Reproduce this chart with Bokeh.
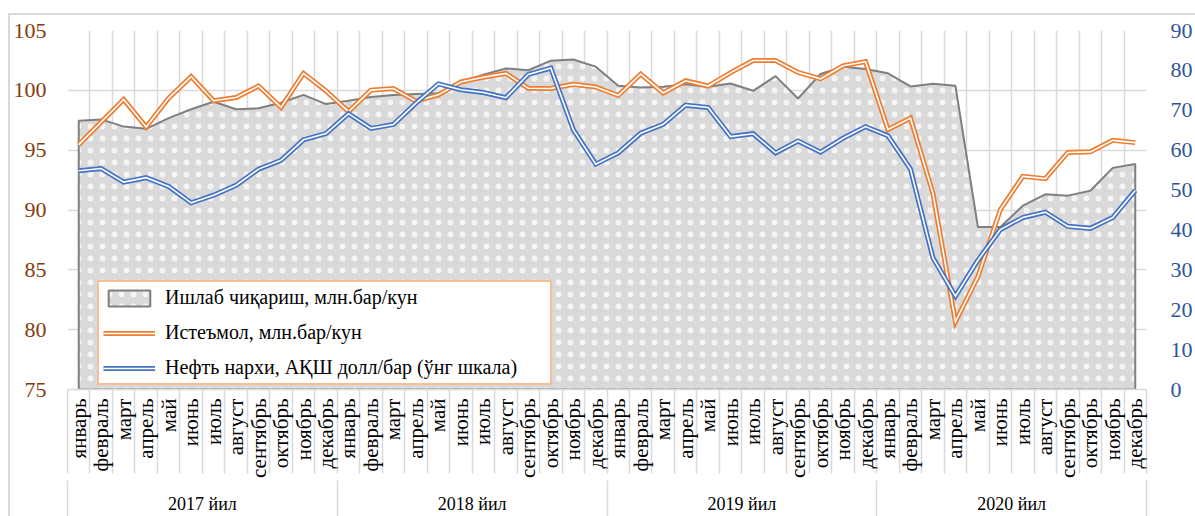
import numpy as np
from math import pi
from bokeh.plotting import figure
from bokeh.models import Range1d, LinearAxis, FixedTicker, Legend, LegendItem, Grid
from bokeh.embed import file_html
from bokeh.resources import INLINE

months = ["январь", "февраль", "март", "апрель", "май", "июнь", "июль",
          "август", "сентябрь", "октябрь", "ноябрь", "декабрь"]
years = ["2017 йил", "2018 йил", "2019 йил", "2020 йил"]

production = [97.46, 97.57, 96.97, 96.78, 97.68, 98.42, 99.04, 98.42, 98.50, 98.96, 99.62, 98.85,
              99.13, 99.45, 99.62, 99.70, 99.75, 100.70, 101.31, 101.83, 101.68, 102.48, 102.58, 101.98,
              100.38, 100.23, 100.30, 100.50, 100.30, 100.57, 99.96, 101.19, 99.32, 101.37, 101.97, 101.78,
              101.42, 100.33, 100.55, 100.38, 88.58, 88.58, 90.36, 91.31, 91.20, 91.61, 93.52, 93.85]
consumption = [95.46, 97.35, 99.23, 96.94, 99.35, 101.15, 99.13, 99.40, 100.36, 98.58, 101.42, 99.95,
               98.22, 100.02, 100.15, 99.10, 99.62, 100.70, 101.10, 101.42, 100.17, 100.15, 100.50, 100.28,
               99.57, 101.35, 99.78, 100.80, 100.36, 101.48, 102.49, 102.49, 101.50, 100.96, 102.05, 102.40,
               96.72, 97.68, 91.39, 80.66, 84.43, 90.03, 92.81, 92.62, 94.81, 94.86, 95.82, 95.63]
oil_price = [54.84, 55.40, 51.98, 53.10, 50.90, 46.80, 48.70, 51.20, 55.25, 57.46, 62.60, 64.15,
             69.15, 65.47, 66.45, 71.80, 76.60, 75.15, 74.45, 73.15, 78.98, 80.60, 65.15, 56.50,
             59.32, 64.24, 66.48, 71.28, 70.68, 63.40, 64.12, 59.32, 62.30, 59.50, 63.00, 65.90,
             63.60, 55.25, 33.00, 23.40, 32.40, 40.10, 43.10, 44.45, 40.90, 40.40, 43.10, 49.90]

ORANGE = "#ED7D31"
BLUE = "#4472C4"
GRID = "#D9D9D9"
FONT = "Liberation Serif"

n = len(production)
x = np.arange(n)
y_min, y_max = 75, 105

p = figure(width=1195, height=516, output_backend="svg", toolbar_location=None,
           x_range=Range1d(-0.5, n - 0.5), y_range=Range1d(y_min, y_max),
           x_axis_type=None, y_axis_type=None,
           min_border_left=67, min_border_right=38, min_border_top=30, min_border_bottom=119)
p.extra_y_ranges = {"price": Range1d(0, 90)}
p.outline_line_color = None
p.background_fill_color = "white"
p.border_fill_color = None
p.styles = {"background": "linear-gradient(#d9d9d9,#d9d9d9) 8px 13px/100% 2px no-repeat, "
                          "linear-gradient(#d9d9d9,#d9d9d9) 8px 13px/2px 100% no-repeat"}

# grids
boundaries = list(x - 0.5) + [n - 0.5]
vgrid = Grid(dimension=0, ticker=FixedTicker(ticks=boundaries),
             grid_line_color=GRID, grid_line_width=1.5)
hgrid = Grid(dimension=1, ticker=FixedTicker(ticks=list(range(y_min, y_max + 1, 5))),
             grid_line_color=GRID, grid_line_width=1.5)
p.add_layout(vgrid)
p.add_layout(hgrid)

# axes
left = LinearAxis(ticker=FixedTicker(ticks=list(range(y_min, y_max + 1, 5))))
right = LinearAxis(y_range_name="price", ticker=FixedTicker(ticks=list(range(0, 91, 10))))
for ax, col, so in ((left, "#843C0C", 15), (right, "#2F5597", 18)):
    ax.axis_line_color = None
    ax.major_tick_line_color = None
    ax.minor_tick_line_color = None
    ax.major_label_text_font = FONT
    ax.major_label_text_font_size = "22px"
    ax.major_label_text_color = col
    ax.major_label_standoff = so
p.add_layout(left, "left")
p.add_layout(right, "right")

month_axis = LinearAxis(ticker=FixedTicker(ticks=list(x), minor_ticks=boundaries),
                        major_label_overrides={int(i): months[i % 12] for i in x},
                        major_label_orientation=pi / 2)
month_axis.axis_line_color = GRID
month_axis.axis_line_width = 1.5
month_axis.major_tick_line_color = None
month_axis.minor_tick_in = 0
month_axis.minor_tick_out = 84
month_axis.minor_tick_line_color = GRID
month_axis.minor_tick_line_width = 1.5
month_axis.major_label_standoff = 9 - 84
month_axis.major_label_text_font = FONT
month_axis.major_label_text_font_size = "21px"
month_axis.major_label_text_color = "black"
p.add_layout(month_axis, "below")

year_centers = [k * 12 + 5.5 for k in range(len(years))]
year_bounds = [k * 12 - 0.5 for k in range(len(years) + 1)]
year_axis = LinearAxis(ticker=FixedTicker(ticks=year_centers, minor_ticks=year_bounds),
                       major_label_overrides={c: yname for c, yname in zip(year_centers, years)})
year_axis.axis_line_color = None
year_axis.major_tick_line_color = None
year_axis.minor_tick_in = 0
year_axis.minor_tick_out = 36
year_axis.minor_tick_line_color = GRID
year_axis.minor_tick_line_width = 1.5
year_axis.major_label_standoff = 13 - 36
year_axis.major_label_text_font = FONT
year_axis.major_label_text_font_size = "18px"
year_axis.major_label_text_color = "black"
p.add_layout(year_axis, "below")

# area (production) with a fine white dot hatch
area_x = np.concatenate([[x[0]], x, [x[-1]]])
area_y = np.concatenate([[y_min], production, [y_min]])
area = p.patch(area_x, area_y, fill_color=GRID, line_color="#7F7F7F", line_width=2,
               hatch_pattern="dot", hatch_color="white", hatch_scale=12,
               hatch_weight=0.2, hatch_alpha=0.7)

# consumption (double orange line)
c_out = p.line(x, consumption, line_color=ORANGE, line_width=5, line_join="miter")
c_in = p.line(x, consumption, line_color="white", line_width=1.6, line_join="miter")

# oil price (double blue line, right axis)
o_out = p.line(x, oil_price, line_color=BLUE, line_width=5, line_join="miter", y_range_name="price")
o_in = p.line(x, oil_price, line_color="white", line_width=1.6, line_join="miter", y_range_name="price")

legend = Legend(items=[
    LegendItem(label="Ишлаб чиқариш, млн.бар/кун", renderers=[area]),
    LegendItem(label="Истеъмол, млн.бар/кун", renderers=[c_out, c_in]),
    LegendItem(label="Нефть нархи, АҚШ долл/бар (ўнг шкала)", renderers=[o_out, o_in]),
], location=(30, 4))
legend.border_line_color = ORANGE
legend.border_line_width = 2
legend.background_fill_color = "white"
legend.background_fill_alpha = 1
legend.label_text_font = FONT
legend.label_text_font_size = "20px"
legend.label_text_color = "black"
legend.glyph_width = 52
legend.glyph_height = 20
legend.label_height = 20
legend.spacing = 12
legend.padding = 4
legend.margin = 0
legend.label_standoff = 10
legend.label_width = 381
p.add_layout(legend)

open("out.html", "w").write(file_html(p, INLINE))
